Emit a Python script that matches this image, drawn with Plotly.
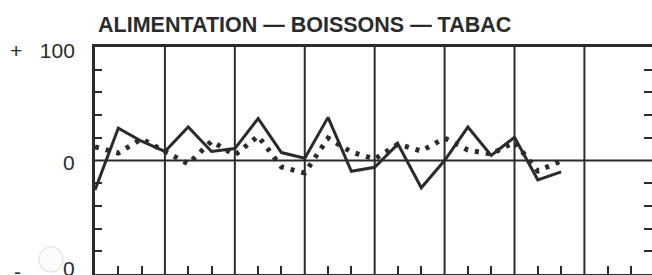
import plotly.graph_objects as go

# ---- data (values in % , periods are thirds of a year) ----
periods = list(range(21))
solid_series = [-26, 28.5, 17, 8, 29.5, 8, 10.5, 37, 7, 2, 38, -9.5, -6, 14.5,
                -24, 0, 29.5, 4.5, 20.5, -17, -10]
dotted_series = [12, 6.6, 19, 8.3, -3, 17, 4.8, 21.5, -5.7, -11, 19.7, 7.5, 1.3,
                 14.5, 8.3, 19.7, 9.2, 5.7, 16.2, -9.2, -0.4]
periods_per_year = 3
n_years = 8
y_minor_ticks = [-80, -60, -40, -20, 20, 40, 60, 80]
title_text = "ALIMENTATION — BOISSONS — TABAC"

INK = "#2b2b2b"
W, H = 652, 275
ML, MT, MB = 95, 47, 1
x_max = 23.9

x_ticks = [p for p in range(1, n_years * periods_per_year) if p % periods_per_year]
year_lines = [p for p in range(periods_per_year, n_years * periods_per_year, periods_per_year)]

fig = go.Figure()
fig.add_trace(go.Scatter(x=periods, y=dotted_series, mode="lines",
                         line=dict(color=INK, width=5, dash="4px,7px"),
                         showlegend=False, hoverinfo="skip"))
fig.add_trace(go.Scatter(x=periods, y=solid_series, mode="lines",
                         line=dict(color=INK, width=3),
                         showlegend=False, hoverinfo="skip"))
fig.add_trace(go.Scatter(x=[None], y=[None], yaxis="y2", showlegend=False))

shapes = []
for yl in year_lines:
    shapes.append(dict(type="line", xref="x", yref="y", x0=yl, x1=yl, y0=-100, y1=100,
                       line=dict(color=INK, width=2), layer="below"))
shapes.append(dict(type="line", xref="x", yref="y", x0=0, x1=x_max, y0=0, y1=0,
                   line=dict(color=INK, width=2), layer="below"))
# faint round mark over the bottom label (scan artefact)
pw = W - ML
ph = H - MT - MB
def px(xp):
    return (xp - ML) / pw
def py(yp):
    return (H - MB - yp) / ph
shapes.append(dict(type="circle", xref="paper", yref="paper",
                   x0=px(39), x1=px(63), y0=py(272), y1=py(247),
                   line=dict(color="#e6e6e6", width=1.5), fillcolor="rgba(250,250,250,0.6)"))

annotations = [
    dict(text=title_text, xref="paper", yref="paper", x=0, y=1, xanchor="left",
         yanchor="middle", xshift=1, yshift=22, showarrow=False,
         font=dict(family="Liberation Sans", size=21.5, color=INK, weight="bold")),
    dict(text="+   100", xref="paper", yref="y", x=0, y=100, xanchor="right",
         yanchor="middle", xshift=-18, yshift=-3, showarrow=False,
         font=dict(family="Liberation Sans", size=21, color=INK)),
    dict(text="0", xref="paper", yref="y", x=0, y=0, xanchor="right",
         yanchor="middle", xshift=-18, yshift=-2, showarrow=False,
         font=dict(family="Liberation Sans", size=21, color=INK)),
    dict(text="-", xref="paper", yref="y", x=0, y=-100, xanchor="left",
         yanchor="middle", xshift=-83, yshift=3, showarrow=False,
         font=dict(family="Liberation Sans", size=21, color=INK)),
    dict(text="0", xref="paper", yref="y", x=0, y=-100, xanchor="right",
         yanchor="middle", xshift=-18, yshift=6, showarrow=False,
         font=dict(family="Liberation Sans", size=21, color=INK)),
]

fig.update_layout(
    width=W, height=H,
    margin=dict(l=ML, r=0, t=MT, b=MB, pad=0),
    paper_bgcolor="white", plot_bgcolor="white",
    shapes=shapes, annotations=annotations,
    xaxis=dict(range=[0, x_max], tickmode="array", tickvals=x_ticks, ticks="inside",
               ticklen=8, tickwidth=2, tickcolor=INK, showticklabels=False,
               showgrid=False, zeroline=False, showline=True, linewidth=2.5,
               linecolor=INK, mirror=True, fixedrange=True),
    yaxis=dict(range=[-100, 100], tickmode="array", tickvals=y_minor_ticks,
               ticks="inside", ticklen=7, tickwidth=2, tickcolor=INK,
               showticklabels=False, showgrid=False, zeroline=False,
               showline=True, linewidth=2.5, linecolor=INK, fixedrange=True),
    yaxis2=dict(range=[-100, 100], overlaying="y", side="right", tickmode="array",
                tickvals=y_minor_ticks, ticks="inside", ticklen=8, tickwidth=2,
                tickcolor=INK, showticklabels=False, showgrid=False,
                zeroline=False, showline=False, fixedrange=True),
)

fig.write_html("out.html", config={"displayModeBar": False},
               post_script="document.body.style.margin='0';document.body.style.overflow='hidden';")
